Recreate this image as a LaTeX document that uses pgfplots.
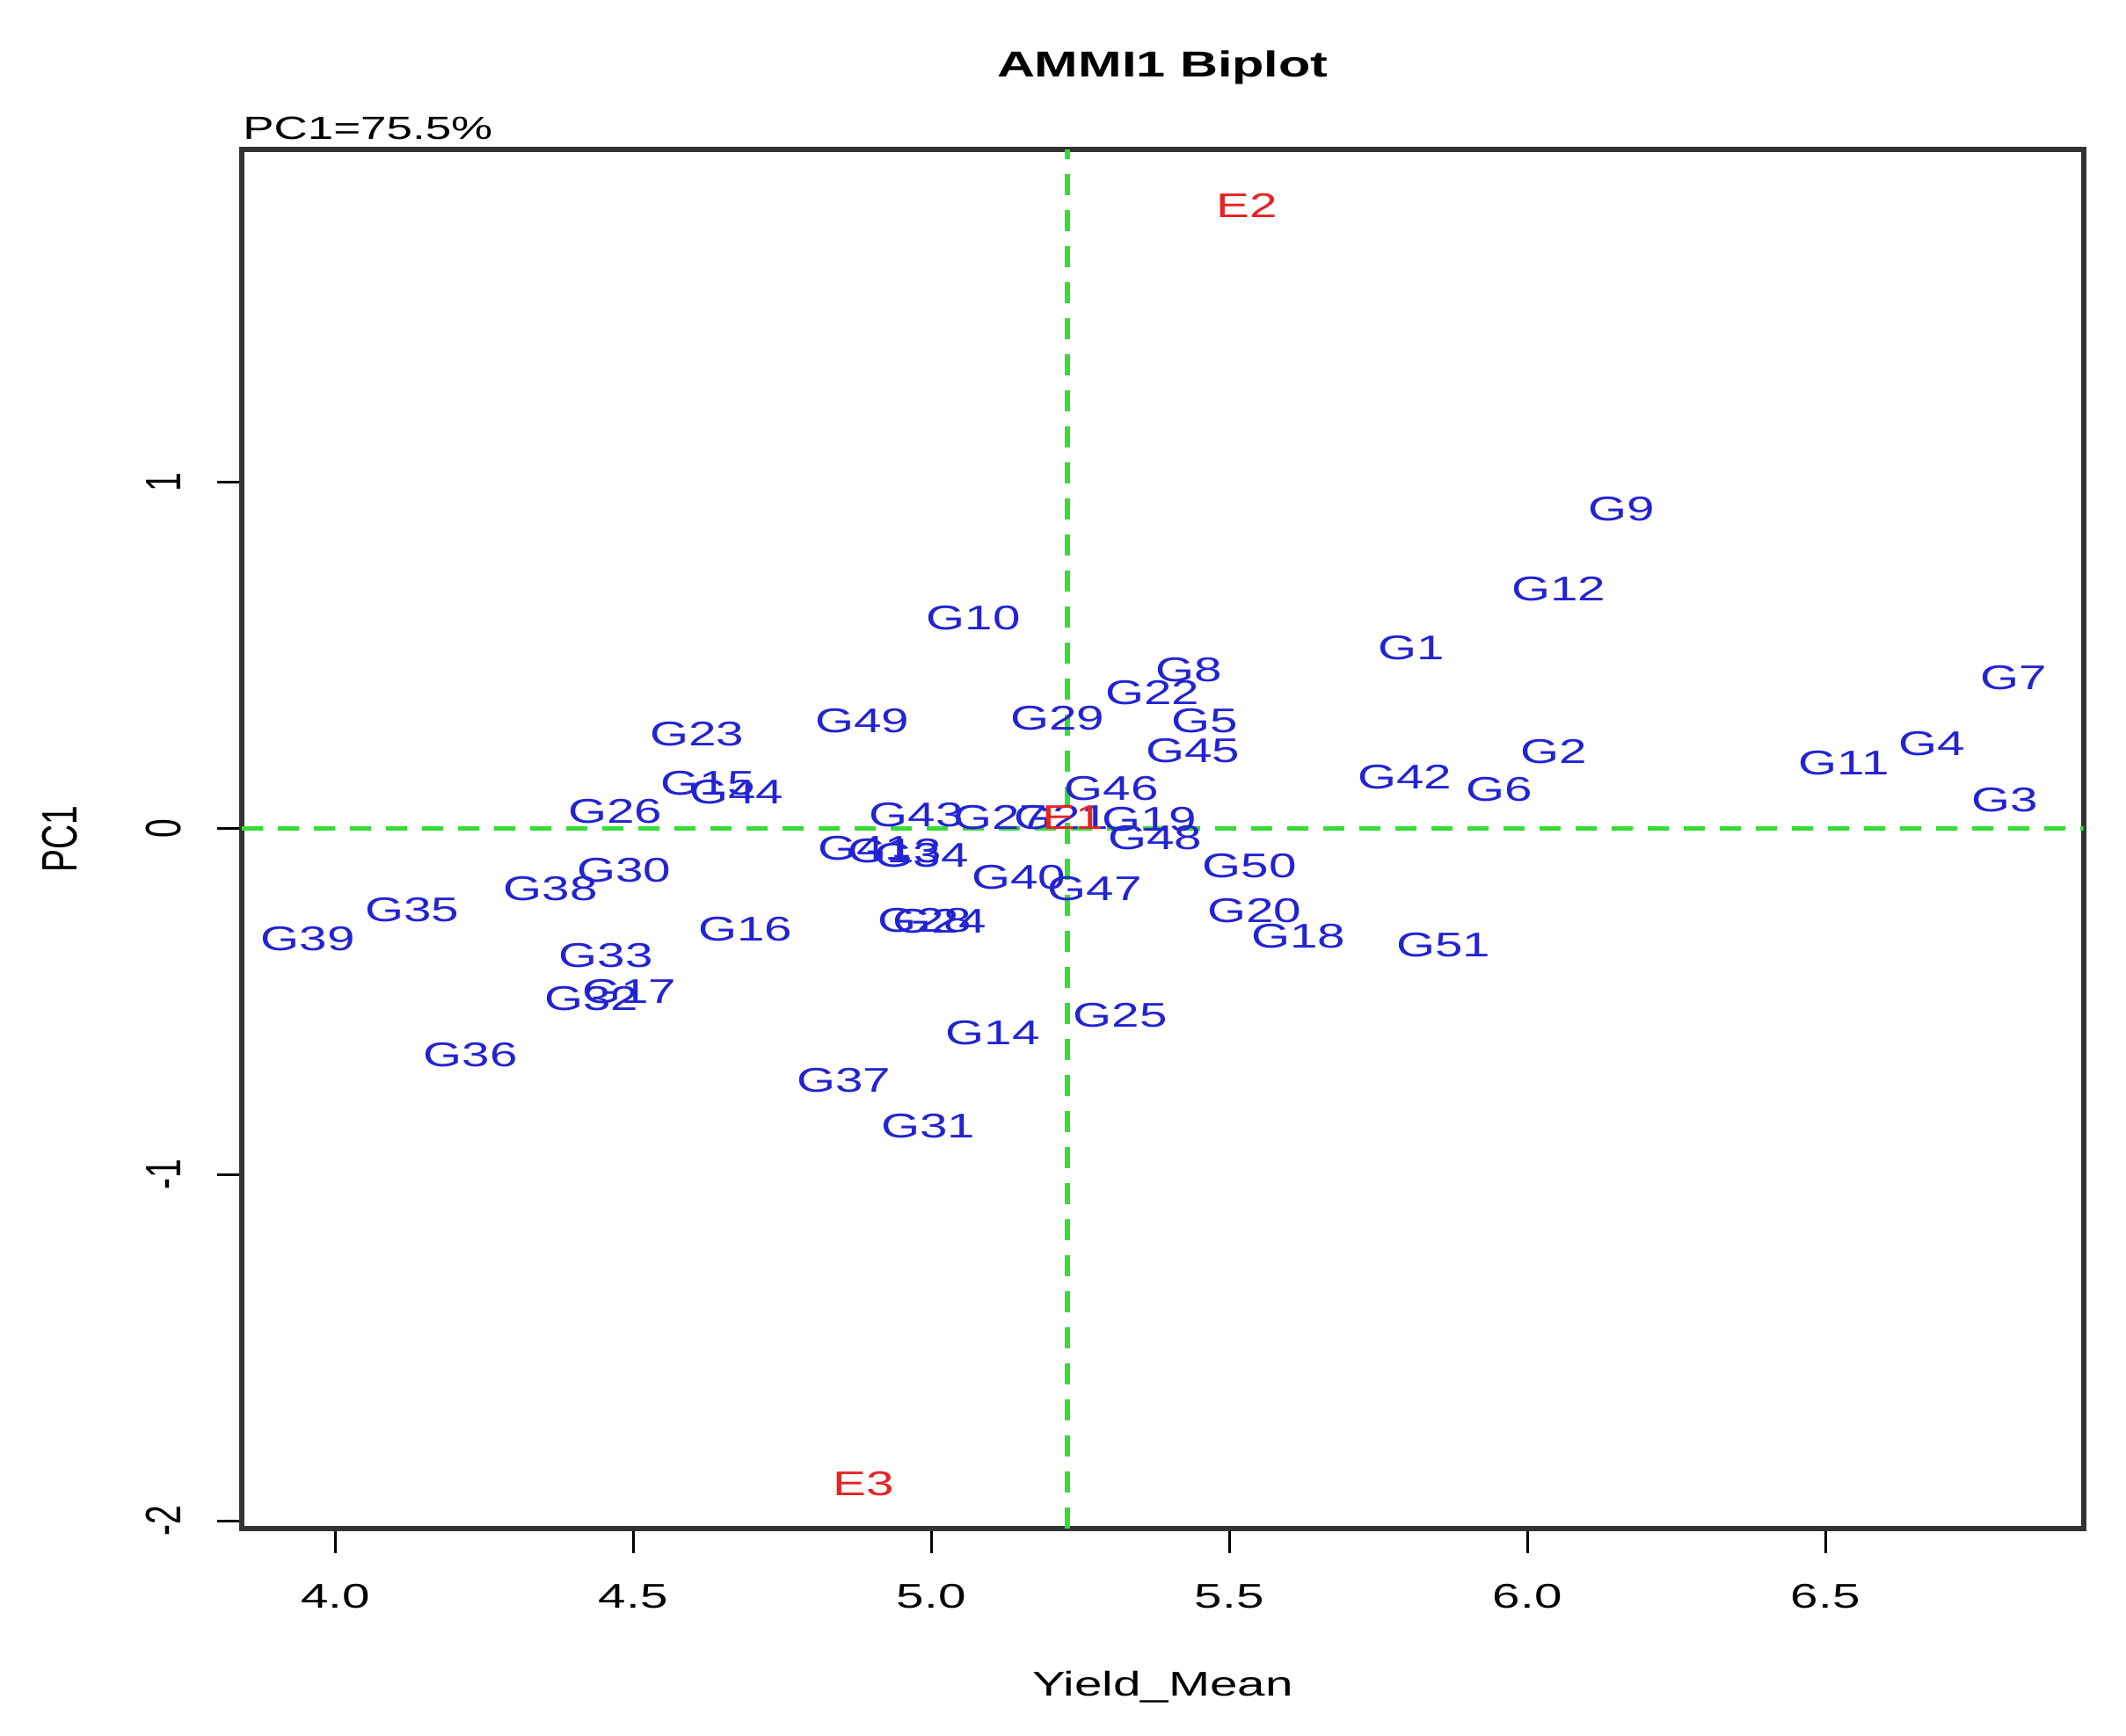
\documentclass[border=0pt]{standalone}
\usepackage{pgfplots}
\pgfplotsset{compat=1.18}
\usepackage{pgfplotstable}
\usepackage{fontspec}
\setmainfont{Liberation Sans}

\definecolor{genblue}{RGB}{35,35,210}
\definecolor{envred}{RGB}{230,35,35}
\definecolor{meangreen}{RGB}{55,220,55}
\newcommand{\lbl}{\fontsize{7.8pt}{9pt}\selectfont}

% genotype scores: mean yield and first interaction PC
\pgfplotstableread{
lab x y
G1 5.805 0.522
G2 6.044 0.222
G3 6.801 0.083
G4 6.678 0.244
G5 5.459 0.310
G6 5.953 0.112
G7 6.815 0.435
G8 5.432 0.459
G9 6.158 0.923
G10 5.071 0.608
G11 6.531 0.189
G12 6.052 0.692
G13 4.939 -0.066
G14 5.103 -0.590
G15 4.625 0.130
G16 4.688 -0.291
G17 4.493 -0.471
G18 5.616 -0.312
G19 5.366 0.026
G20 5.542 -0.238
G21 5.218 0.032
G22 5.371 0.392
G23 4.607 0.273
G24 5.014 -0.269
G25 5.317 -0.540
G26 4.470 0.049
G27 5.116 0.032
G28 4.989 -0.265
G29 5.212 0.318
G30 4.484 -0.121
G31 4.995 -0.859
G32 4.430 -0.491
G33 4.454 -0.367
G34 4.984 -0.078
G35 4.129 -0.236
G36 4.227 -0.653
G37 4.853 -0.727
G38 4.361 -0.173
G39 3.954 -0.320
G40 5.147 -0.142
G41 4.889 -0.058
G42 5.794 0.148
G43 4.975 0.040
G44 4.673 0.106
G45 5.439 0.224
G46 5.302 0.116
G47 5.274 -0.173
G48 5.375 -0.027
G49 4.884 0.310
G50 5.534 -0.109
G51 5.859 -0.336
}\genotypes

% environment scores
\pgfplotstableread{
lab x y
E1 5.237 0.032
E2 5.530 1.798
E3 4.886 -1.894
}\environments

\begin{document}
\begin{tikzpicture}
\begin{axis}[
  name=ax,
  scale only axis,
  width=418.96pt, height=313.74pt,
  xmin=3.843, xmax=6.933,
  ymin=-2.023, ymax=1.960,
  axis line style={line width=1.2pt, black!80},
  tick pos=left,
  tick align=outside,
  major tick length=5.6pt,
  every tick/.style={black, line width=0.6pt},
  xtick={4,4.5,5,5.5,6,6.5},
  xticklabels={4.0,4.5,5.0,5.5,6.0,6.5},
  ytick={-2,-1,0,1},
  yticklabels={-2,-1,0,1},
  xticklabel style={font=\lbl, anchor=base, yshift=-12.4pt, xscale=1.45},
  yticklabel style={font=\lbl, anchor=center, xshift=-12.2pt, rotate=90, yscale=1.45},
  every axis x label/.style={at={(axis description cs:0.5,0)}, anchor=base,
    yshift=-38pt, xscale=1.45, font=\lbl},
  every axis y label/.style={at={(axis description cs:0,0.5)}, anchor=center,
    xshift=-41.4pt, rotate=90, yscale=1.45, font=\lbl},
  every axis title/.style={at={(axis description cs:0.5,1)}, anchor=base,
    yshift=16.5pt, xscale=1.45, font=\bfseries\fontsize{8.2pt}{10pt}\selectfont},
  title={AMMI1 Biplot},
  xlabel={Yield\_Mean},
  ylabel={PC1},
]

% genotype labels
\addplot[only marks, mark=none, nodes near coords, point meta=explicit symbolic,
  nodes near coords style={anchor=center, text=genblue, font=\lbl, xscale=1.45, inner sep=0pt}]
  table[x=x, y=y, meta=lab]{\genotypes};

% environment labels
\addplot[only marks, mark=none, nodes near coords, point meta=explicit symbolic,
  nodes near coords style={anchor=center, text=envred, font=\lbl, xscale=1.45, inner sep=0pt}]
  table[x=x, y=y, meta=lab]{\environments};

% reference lines: grand mean yield and PC1 = 0
\addplot[meangreen, line width=1.1pt, dash pattern=on 4.8pt off 3.4pt]
  coordinates {(5.228,-2.023) (5.228,1.960)};
\addplot[meangreen, line width=1.1pt, dash pattern=on 4.8pt off 3.4pt]
  coordinates {(3.843,0) (6.933,0)};
\end{axis}

% share of interaction explained by PC1
\node[anchor=base west, font=\fontsize{7.3pt}{9pt}\selectfont, xscale=1.45, inner sep=0pt]
  at ([yshift=2.3pt]ax.north west) {PC1=75.5\%};

\pgfresetboundingbox
\path ([xshift=-54.98pt,yshift=-46.96pt]ax.south west)
  rectangle ([xshift=9.66pt,yshift=34.1pt]ax.north east);
\end{tikzpicture}
\end{document}
